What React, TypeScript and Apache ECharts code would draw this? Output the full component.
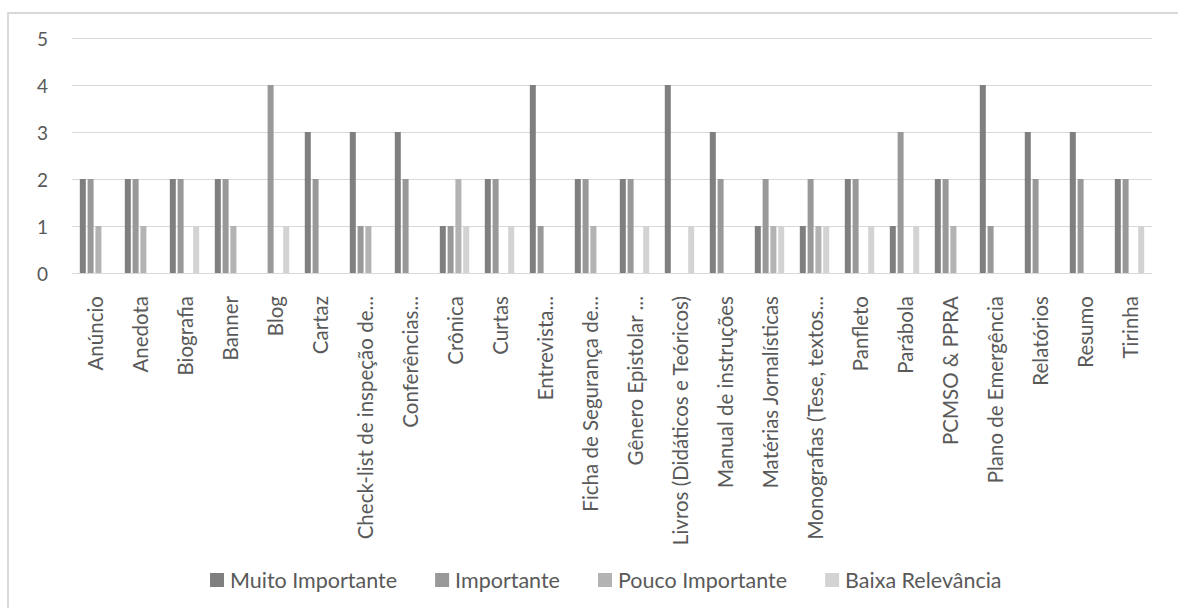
import React, { useEffect, useRef } from "react";
import * as echarts from "echarts";

const categories = [
  "Anúncio",
  "Anedota",
  "Biografia",
  "Banner",
  "Blog",
  "Cartaz",
  "Check-list de inspeção de...",
  "Conferências...",
  "Crônica",
  "Curtas",
  "Entrevista...",
  "Ficha de Segurança de...",
  "Gênero Epistolar ...",
  "Livros (Didáticos e Teóricos)",
  "Manual de instruções",
  "Matérias Jornalísticas",
  "Monografias (Tese, textos...",
  "Panfleto",
  "Parábola",
  "PCMSO & PPRA",
  "Plano de Emergência",
  "Relatórios",
  "Resumo",
  "Tirinha",
];

const muitoImportante = [2, 2, 2, 2, 0, 3, 3, 3, 1, 2, 4, 2, 2, 4, 3, 1, 1, 2, 1, 2, 4, 3, 3, 2];
const importante = [2, 2, 2, 2, 4, 2, 1, 2, 1, 2, 1, 2, 2, 0, 2, 2, 2, 2, 3, 2, 1, 2, 2, 2];
const poucoImportante = [1, 1, 0, 1, 0, 0, 1, 0, 2, 0, 0, 1, 0, 0, 0, 1, 1, 0, 0, 1, 0, 0, 0, 0];
const baixaRelevancia = [0, 0, 1, 0, 1, 0, 0, 0, 1, 1, 0, 0, 1, 1, 0, 1, 1, 1, 1, 0, 0, 0, 0, 1];

const seriesNames = ["Muito Importante", "Importante", "Pouco Importante", "Baixa Relevância"];
const seriesColors = ["#7f7f7f", "#999999", "#b3b3b3", "#d3d3d3"];
const seriesValues = [muitoImportante, importante, poucoImportante, baixaRelevancia];

const FONT = "Lato";

export default function App() {
  const ref = useRef<HTMLDivElement>(null);
  useEffect(() => {
    if (!ref.current) return;
    const chart = echarts.init(ref.current, null, { renderer: "svg" });
    chart.setOption({
      animation: false,
      backgroundColor: "#ffffff",
      textStyle: { fontFamily: FONT },
      grid: { left: 72, right: 26, top: 38, bottom: 335, containLabel: false },
      graphic: [
        {
          type: "rect",
          shape: { x: 8, y: 13, width: 1300, height: 800 },
          style: { fill: "none", stroke: "#d9d9d9", lineWidth: 2 },
          silent: true,
        },
      ],
      legend: {
        data: seriesNames,
        left: 205,
        top: 564,
        icon: "rect",
        itemWidth: 14,
        itemHeight: 14,
        itemGap: 38,
        textStyle: { fontFamily: FONT, fontSize: 21.5, color: "#595959", padding: [0, 0, 0, 1] },
      },
      xAxis: {
        type: "category",
        data: categories,
        axisTick: { show: false },
        axisLine: { lineStyle: { color: "#d9d9d9", width: 1 } },
        axisLabel: {
          interval: 0,
          rotate: 90,
          margin: 23,
          fontFamily: FONT,
          fontSize: 20.5,
          color: "#595959",
        },
      },
      yAxis: {
        type: "value",
        min: 0,
        max: 5,
        interval: 1,
        axisLine: { show: false },
        axisTick: { show: false },
        splitLine: { lineStyle: { color: "#d9d9d9", width: 1 } },
        axisLabel: { margin: 24, fontFamily: FONT, fontSize: 19, color: "#595959" },
      },
      series: seriesNames.map((name, i) => ({
        name,
        type: "bar",
        data: seriesValues[i],
        barWidth: 6,
        barGap: "30%",
        itemStyle: { color: seriesColors[i] },
      })),
    });
    return () => chart.dispose();
  }, []);
  return (
    <div
      ref={ref}
      style={{ position: "fixed", left: 0, top: 0, width: 1178, height: 608 }}
    />
  );
}
